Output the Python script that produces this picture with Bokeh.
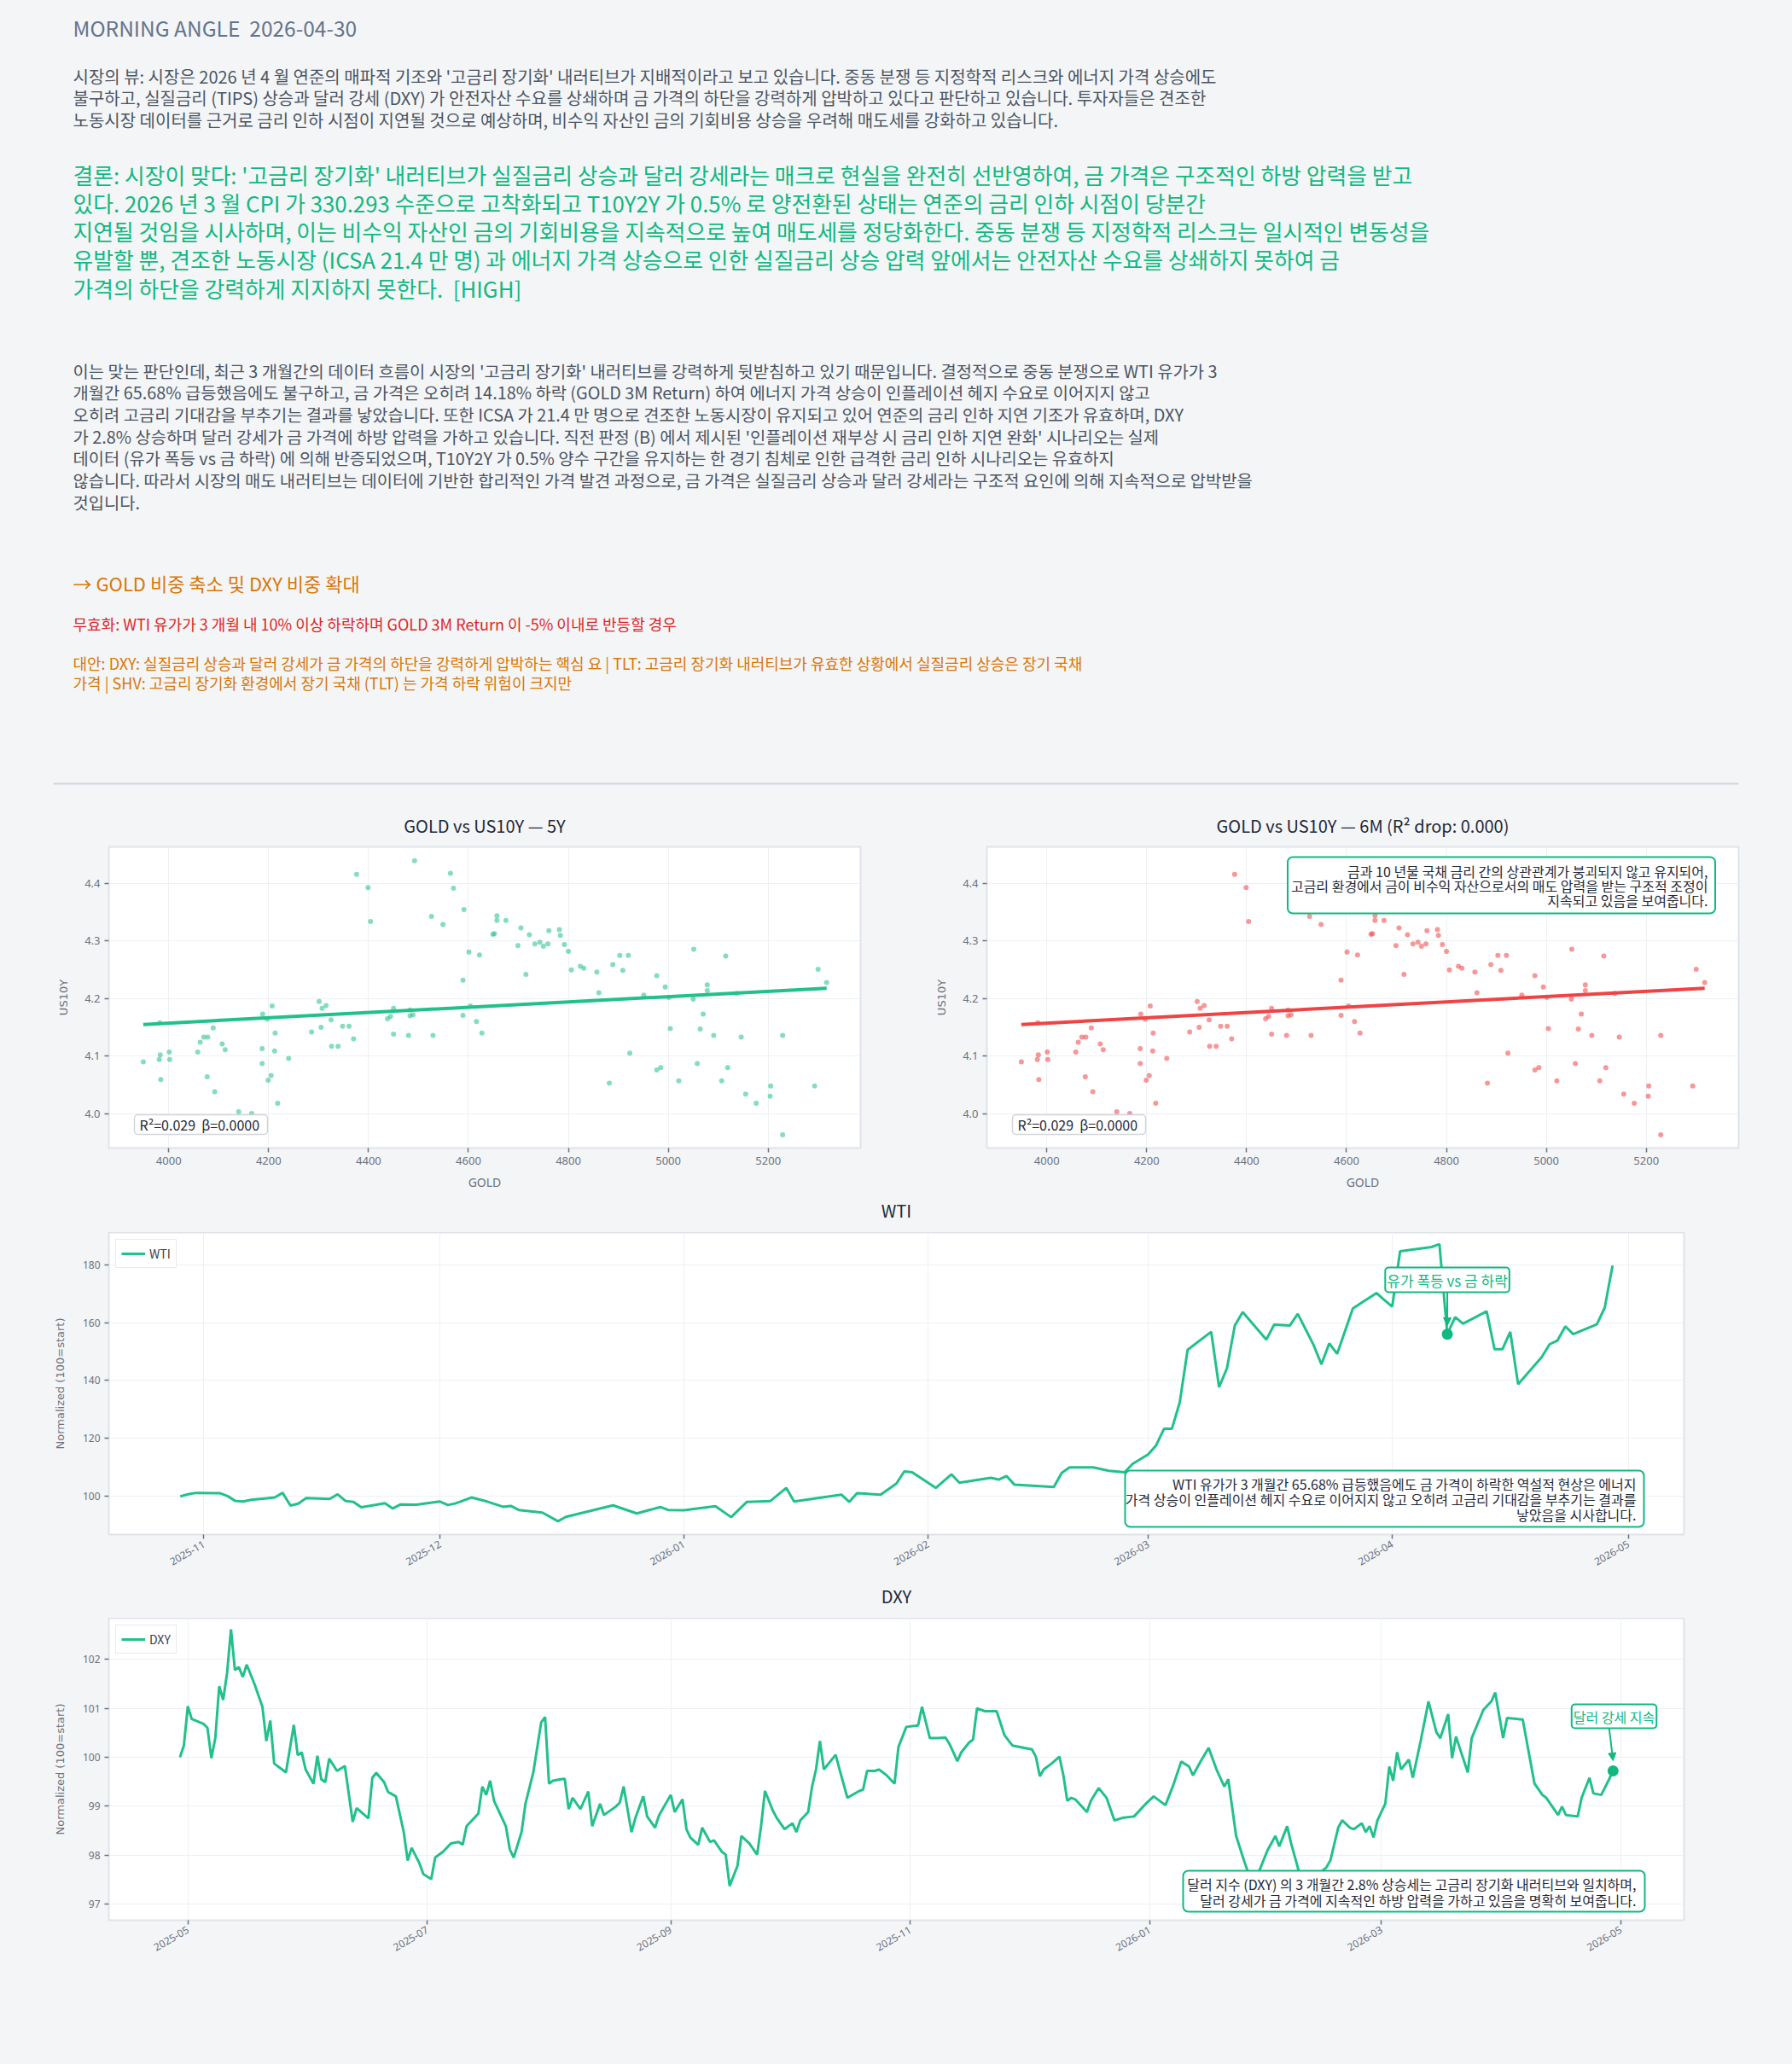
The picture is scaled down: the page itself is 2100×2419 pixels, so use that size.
import math
import pandas as pd
from bokeh.plotting import figure
from bokeh.layouts import column, row
from bokeh.models import (Range1d, Label, Arrow, NormalHead, SingleIntervalTicker,
                          MonthsTicker, DatetimeTickFormatter, NumeralTickFormatter,
                          BoxAnnotation)
from bokeh.core.properties import value
from bokeh.embed import file_html
from bokeh.resources import INLINE

# ---------------- text content ----------------
header_title = "MORNING ANGLE  2026-04-30"
view_lines = [
    "시장의 뷰: 시장은 2026 년 4 월 연준의 매파적 기조와 '고금리 장기화' 내러티브가 지배적이라고 보고 있습니다. 중동 분쟁 등 지정학적 리스크와 에너지 가격 상승에도",
    "불구하고, 실질금리 (TIPS) 상승과 달러 강세 (DXY) 가 안전자산 수요를 상쇄하며 금 가격의 하단을 강력하게 압박하고 있다고 판단하고 있습니다. 투자자들은 견조한",
    "노동시장 데이터를 근거로 금리 인하 시점이 지연될 것으로 예상하며, 비수익 자산인 금의 기회비용 상승을 우려해 매도세를 강화하고 있습니다.",
]
concl_lines = [
    "결론: 시장이 맞다: '고금리 장기화' 내러티브가 실질금리 상승과 달러 강세라는 매크로 현실을 완전히 선반영하여, 금 가격은 구조적인 하방 압력을 받고",
    "있다. 2026 년 3 월 CPI 가 330.293 수준으로 고착화되고 T10Y2Y 가 0.5% 로 양전환된 상태는 연준의 금리 인하 시점이 당분간",
    "지연될 것임을 시사하며, 이는 비수익 자산인 금의 기회비용을 지속적으로 높여 매도세를 정당화한다. 중동 분쟁 등 지정학적 리스크는 일시적인 변동성을",
    "유발할 뿐, 견조한 노동시장 (ICSA 21.4 만 명) 과 에너지 가격 상승으로 인한 실질금리 상승 압력 앞에서는 안전자산 수요를 상쇄하지 못하여 금",
    "가격의 하단을 강력하게 지지하지 못한다.  [HIGH]",
]
reason_lines = [
    "이는 맞는 판단인데, 최근 3 개월간의 데이터 흐름이 시장의 '고금리 장기화' 내러티브를 강력하게 뒷받침하고 있기 때문입니다. 결정적으로 중동 분쟁으로 WTI 유가가 3",
    "개월간 65.68% 급등했음에도 불구하고, 금 가격은 오히려 14.18% 하락 (GOLD 3M Return) 하여 에너지 가격 상승이 인플레이션 헤지 수요로 이어지지 않고",
    "오히려 고금리 기대감을 부추기는 결과를 낳았습니다. 또한 ICSA 가 21.4 만 명으로 견조한 노동시장이 유지되고 있어 연준의 금리 인하 지연 기조가 유효하며, DXY",
    "가 2.8% 상승하며 달러 강세가 금 가격에 하방 압력을 가하고 있습니다. 직전 판정 (B) 에서 제시된 '인플레이션 재부상 시 금리 인하 지연 완화' 시나리오는 실제",
    "데이터 (유가 폭등 vs 금 하락) 에 의해 반증되었으며, T10Y2Y 가 0.5% 양수 구간을 유지하는 한 경기 침체로 인한 급격한 금리 인하 시나리오는 유효하지",
    "않습니다. 따라서 시장의 매도 내러티브는 데이터에 기반한 합리적인 가격 발견 과정으로, 금 가격은 실질금리 상승과 달러 강세라는 구조적 요인에 의해 지속적으로 압박받을",
    "것입니다.",
]
action_line = "→ GOLD 비중 축소 및 DXY 비중 확대"
invalid_line = "무효화: WTI 유가가 3 개월 내 10% 이상 하락하며 GOLD 3M Return 이 -5% 이내로 반등할 경우"
alt_lines = [
    "대안: DXY: 실질금리 상승과 달러 강세가 금 가격의 하단을 강력하게 압박하는 핵심 요 | TLT: 고금리 장기화 내러티브가 유효한 상황에서 실질금리 상승은 장기 국채",
    "가격 | SHV: 고금리 장기화 환경에서 장기 국채 (TLT) 는 가격 하락 위험이 크지만",
]

# ---------------- scatter data (GOLD vs US10Y) ----------------
gold = [3949, 3982, 3983, 3981, 3984, 4001, 4002, 4058, 4063, 4070,
        4078, 4077, 4089, 4092, 4107, 4113, 4140, 4166, 4187, 4187,
        4188, 4197, 4207, 4199, 4205, 4213, 4212, 4218, 4240, 4286,
        4301, 4305, 4307, 4315, 4325, 4326, 4339, 4348, 4361, 4370,
        4376, 4399, 4404, 4438, 4444, 4450, 4450, 4480, 4483, 4483,
        4489, 4492, 4526, 4529, 4549, 4564, 4570, 4589, 4589, 4591,
        4601, 4604, 4616, 4622, 4627, 4649, 4652, 4657, 4657, 4675,
        4699, 4705, 4715, 4722, 4733, 4743, 4750, 4759, 4761, 4782,
        4784, 4792, 4800, 4806, 4824, 4831, 4857, 4861, 4882, 4889,
        4903, 4909, 4920, 4923, 4951, 4977, 4977, 4985, 4994, 5001,
        5004, 5021, 5050, 5051, 5058, 5064, 5070, 5078, 5078, 5091,
        5107, 5115, 5119, 5137, 5146, 5155, 5176, 5204, 5205, 5229,
        5229, 5293, 5300, 5317]
us10y = [4.090, 4.158, 4.102, 4.094, 4.059, 4.107, 4.094, 4.107, 4.124, 4.133,
         4.133, 4.064, 4.149, 4.038, 4.121, 4.111, 4.003, 4.000, 4.113, 4.087,
         4.173, 4.164, 4.187, 4.058, 4.066, 4.140, 4.109, 4.018, 4.096, 4.142,
         4.195, 4.150, 4.183, 4.188, 4.163, 4.117, 4.117, 4.152, 4.152, 4.130,
         4.416, 4.393, 4.334, 4.165, 4.169, 4.183, 4.138, 4.136, 4.170, 4.180,
         4.172, 4.440, 4.343, 4.136, 4.329, 4.418, 4.392, 4.171, 4.232, 4.355,
         4.281, 4.187, 4.160, 4.276, 4.140, 4.312, 4.313, 4.344, 4.336, 4.336,
         4.292, 4.323, 4.242, 4.311, 4.295, 4.298, 4.291, 4.295, 4.318, 4.320,
         4.310, 4.294, 4.282, 4.250, 4.256, 4.253, 4.246, 4.210, 4.053, 4.259,
         4.275, 4.249, 4.275, 4.105, 4.206, 4.240, 4.076, 4.080, 4.220, 4.202,
         4.148, 4.057, 4.199, 4.286, 4.087, 4.147, 4.173, 4.224, 4.214, 4.136,
         4.057, 4.274, 4.080, 4.209, 4.133, 4.034, 4.018, 4.030, 4.048, 4.136,
         3.963, 4.048, 4.251, 4.228]
fit_gold = [3949, 5317]
fit_us10y = [4.155, 4.218]
fit_text = "R²=0.029  β=0.0000"
note_6m = ["금과 10 년물 국채 금리 간의 상관관계가 붕괴되지 않고 유지되어,",
           "고금리 환경에서 금이 비수익 자산으로서의 매도 압력을 받는 구조적 조정이",
           "지속되고 있음을 보여줍니다."]

# ---------------- WTI (normalized, 100 = start) ----------------
wti_dates = ["2025-10-29", "2025-10-30", "2025-10-31", "2025-11-03", "2025-11-04", "2025-11-05",
             "2025-11-06", "2025-11-07", "2025-11-09", "2025-11-10", "2025-11-11", "2025-11-12",
             "2025-11-13", "2025-11-14", "2025-11-17", "2025-11-18", "2025-11-19", "2025-11-20",
             "2025-11-21", "2025-11-22", "2025-11-24", "2025-11-25", "2025-11-26", "2025-11-28",
             "2025-12-01", "2025-12-02", "2025-12-03", "2025-12-05", "2025-12-07", "2025-12-09",
             "2025-12-10", "2025-12-11", "2025-12-14", "2025-12-16", "2025-12-17", "2025-12-23",
             "2025-12-26", "2025-12-29", "2025-12-30", "2026-01-01", "2026-01-05", "2026-01-07",
             "2026-01-09", "2026-01-12", "2026-01-14", "2026-01-15", "2026-01-21", "2026-01-22",
             "2026-01-23", "2026-01-26", "2026-01-28", "2026-01-29", "2026-01-30", "2026-02-02",
             "2026-02-04", "2026-02-05", "2026-02-09", "2026-02-10", "2026-02-11", "2026-02-12",
             "2026-02-17", "2026-02-18", "2026-02-19", "2026-02-22", "2026-02-24", "2026-02-26",
             "2026-02-27", "2026-03-01", "2026-03-02", "2026-03-03", "2026-03-04", "2026-03-05",
             "2026-03-06", "2026-03-09", "2026-03-10", "2026-03-11", "2026-03-12", "2026-03-13",
             "2026-03-16", "2026-03-17", "2026-03-19", "2026-03-20", "2026-03-22", "2026-03-23",
             "2026-03-24", "2026-03-25", "2026-03-27", "2026-03-30", "2026-03-31", "2026-04-01",
             "2026-04-02", "2026-04-06", "2026-04-07", "2026-04-08", "2026-04-09", "2026-04-10",
             "2026-04-13", "2026-04-14", "2026-04-15", "2026-04-16", "2026-04-17", "2026-04-20",
             "2026-04-21", "2026-04-22", "2026-04-23", "2026-04-24", "2026-04-27", "2026-04-28",
             "2026-04-29"]
wti_vals = [100.0, 100.7, 101.2, 101.1, 100.1, 98.4,
            98.2, 98.8, 99.3, 99.6, 101.2, 96.8,
            97.5, 99.4, 99.1, 100.7, 98.4, 98.1,
            96.2, 96.7, 97.6, 95.8, 97.2, 97.1,
            98.2, 97.0, 97.6, 99.6, 98.2, 96.4,
            96.7, 95.3, 94.4, 91.4, 92.9, 96.9,
            94.1, 96.3, 95.3, 95.2, 96.6, 92.8,
            98.1, 98.4, 102.9, 98.2, 100.6, 98.1,
            101.1, 100.6, 104.4, 108.6, 108.3, 102.9,
            107.6, 104.7, 106.4, 105.8, 107.0, 104.0,
            103.2, 108.1, 110.0, 110.0, 108.8, 108.3,
            111.2, 114.5, 117.6, 123.3, 123.3, 132.4,
            150.6, 156.8, 137.7, 144.2, 159.0, 163.6,
            154.1, 159.3, 159.0, 163.0, 152.3, 145.6,
            152.8, 149.2, 164.9, 170.2, 167.8, 165.5,
            184.6, 186.1, 187.1, 156.0, 161.9, 159.6,
            163.9, 150.8, 150.8, 156.8, 138.7, 148.1,
            152.5, 153.8, 158.7, 156.0, 159.4, 165.1,
            179.7]
wti_mark_date = "2026-04-08"
wti_mark_text = "유가 폭등 vs 금 하락"
wti_note = ["WTI 유가가 3 개월간 65.68% 급등했음에도 금 가격이 하락한 역설적 현상은 에너지",
            "가격 상승이 인플레이션 헤지 수요로 이어지지 않고 오히려 고금리 기대감을 부추기는 결과를",
            "낳았음을 시사합니다."]

# ---------------- DXY (normalized, 100 = start); days since 2025-05-01 ----------------
dxy_start = "2025-05-01"
dxy_day = [-2, -1, 0, 1, 4, 5, 6, 7, 8, 9, 10, 11, 12, 13, 14, 15, 17, 19, 20, 21,
           22, 24, 25, 27, 28, 29, 30, 32, 33, 34, 35, 36, 38, 40, 42, 43, 46, 47, 48, 50,
           51, 53, 55, 56, 57, 59, 60, 62, 63, 65, 67, 69, 70, 71, 73, 74, 75, 76, 77, 78,
           81, 82, 83, 85, 86, 88, 90, 91, 92, 93, 95, 96, 97, 98, 100, 102, 103, 105, 106, 109,
           110, 111, 113, 114, 116, 117, 119, 120, 123, 124, 126, 127, 128, 130, 131, 133, 134, 136, 137, 138,
           140, 141, 143, 145, 146, 147, 149, 150, 152, 154, 155, 156, 158, 159, 160, 161, 162, 165, 166, 168,
           171, 172, 173, 175, 176, 178, 180, 181, 183, 186, 187, 189, 191, 193, 194, 196, 197, 199, 200, 201,
           203, 206, 208, 210, 213, 215, 216, 217, 218, 220, 222, 223, 224, 225, 226, 229, 230, 232, 234, 236,
           238, 241, 244, 246, 249, 251, 253, 255, 256, 258, 260, 262, 264, 265, 267, 269, 270, 272, 273, 275,
           277, 278, 280, 281, 283, 285, 287, 290, 291, 293, 294, 296, 297, 299, 300, 301, 302, 303, 305, 306,
           307, 308, 309, 311, 312, 314, 316, 318, 319, 321, 322, 323, 326, 327, 330, 332, 333, 335, 336, 340,
           341, 343, 345, 346, 349, 350, 351, 354, 355, 357, 358, 360, 362, 363]
dxy_vals = [100.00, 100.24, 101.04, 100.78, 100.68, 100.60, 99.98, 100.39, 101.45, 101.17, 101.72, 102.61, 101.78, 101.84, 101.64, 101.89, 101.49, 101.03, 100.33, 100.75,
            99.87, 99.75, 99.69, 100.66, 100.04, 100.10, 99.75, 99.46, 100.03, 99.55, 99.49, 99.97, 99.72, 99.82, 98.68, 98.96, 98.75, 99.58, 99.68, 99.49,
            99.29, 99.20, 98.47, 97.89, 98.15, 97.83, 97.61, 97.51, 97.95, 98.07, 98.24, 98.27, 98.21, 98.59, 98.76, 98.85, 99.40, 99.23, 99.52, 99.11,
            98.59, 98.12, 97.95, 98.47, 99.05, 99.69, 100.71, 100.82, 99.46, 99.52, 99.55, 99.56, 98.94, 99.17, 98.94, 99.30, 98.59, 99.05, 98.82, 98.99,
            99.07, 99.40, 98.47, 98.76, 99.20, 98.79, 98.56, 98.81, 99.23, 98.88, 99.14, 98.53, 98.36, 98.21, 98.56, 98.27, 98.30, 98.07, 98.01, 97.37,
            97.78, 98.39, 98.24, 98.01, 98.59, 99.31, 98.91, 98.76, 98.53, 98.65, 98.47, 98.71, 98.88, 99.40, 99.75, 100.33, 99.75, 100.05, 99.75, 99.17,
            99.31, 99.34, 99.72, 99.72, 99.75, 99.63, 99.46, 100.21, 100.62, 100.65, 101.03, 100.39, 100.39, 100.40, 100.27, 99.92, 100.10, 100.30, 100.36, 101.00,
            100.94, 100.94, 100.45, 100.24, 100.19, 100.16, 100.01, 99.61, 99.75, 99.87, 100.01, 99.63, 99.11, 99.17, 99.14, 98.88, 99.11, 99.37, 99.17, 98.71,
            98.76, 98.79, 99.05, 99.20, 99.02, 99.43, 99.91, 99.81, 99.63, 99.92, 100.19, 99.75, 99.40, 99.55, 98.39, 97.89, 97.66, 97.20, 97.70, 98.10,
            98.39, 98.18, 98.59, 98.24, 97.66, 97.40, 97.55, 97.75, 97.89, 98.56, 98.71, 98.56, 98.53, 98.65, 98.47, 98.59, 98.36, 98.71, 99.05, 99.81,
            99.52, 100.10, 99.75, 99.95, 99.58, 100.33, 101.14, 100.51, 100.39, 100.88, 99.98, 100.42, 99.69, 100.39, 100.97, 101.14, 101.32, 100.39, 100.80, 100.77,
            100.33, 99.46, 99.23, 99.17, 98.82, 98.99, 98.82, 98.79, 99.17, 99.58, 99.26, 99.23, 99.55, 99.72]
dxy_mark_text = "달러 강세 지속"
dxy_note = ["달러 지수 (DXY) 의 3 개월간 2.8% 상승세는 고금리 장기화 내러티브와 일치하며,",
            "달러 강세가 금 가격에 지속적인 하방 압력을 가하고 있음을 명확히 보여줍니다."]

# ---------------- styles ----------------
BG = "#f4f5f7"
GREEN = "#22c08c"
GREEN_DK = "#10b981"
RED = "#ef4444"
KFONT = "Noto Sans CJK KR"
TICK_C = "#6b7280"
NOTE_SIZE = "16px"
PAGE_W = 2092

def keep_spaces(s):
    return s.replace("  ", "\u00a0 ")

def ms(d):
    return pd.Timestamp(d).value / 1e6

# page-pixel -> data helpers (frame geometry of each plot on the page)
def gx(g, px):
    return g["x0"] + (px - g["left"]) * (g["x1"] - g["x0"]) / g["w"]

def gy(g, py):
    return g["y1"] - (py - g["top"]) * (g["y1"] - g["y0"]) / g["h"]

def style(p, title, standoff):
    p.background_fill_color = "white"
    p.border_fill_color = BG
    p.outline_line_color = "#dfe3e8"
    p.outline_line_width = 2
    p.grid.grid_line_color = "#eef0f3"
    p.grid.grid_line_width = 1
    p.axis.axis_line_color = None
    p.axis.major_tick_line_color = TICK_C
    p.axis.major_tick_line_width = 1.5
    p.axis.major_tick_out = 5
    p.axis.major_tick_in = 0
    p.axis.minor_tick_line_color = None
    p.axis.major_label_text_color = TICK_C
    p.axis.major_label_text_font = "Noto Sans"
    p.axis.major_label_text_font_size = "13px"
    p.axis.axis_label_text_color = TICK_C
    p.axis.axis_label_text_font = "DejaVu Sans"
    p.axis.axis_label_text_font_size = "13px"
    p.axis.axis_label_text_font_style = "normal"
    if title:
        p.title.text = title
        p.title.align = "center"
        p.title.text_font = KFONT
        p.title.text_font_size = "20px"
        p.title.text_font_style = "normal"
        p.title.text_color = "#1f2937"
        p.title.standoff = standoff

def note_box(p, g, box, lines, line_ys, right_px, border=GREEN_DK, bw=2, radius=6,
             align="right", color="#1f2937"):
    p.add_layout(BoxAnnotation(left=gx(g, box[0]), right=gx(g, box[1]),
                               top=gy(g, box[2]), bottom=gy(g, box[3]),
                               fill_color="white", fill_alpha=1, line_color=border,
                               line_width=bw, line_alpha=1, border_radius=radius))
    for t, y in zip(lines, line_ys):
        p.add_layout(Label(x=gx(g, right_px), y=gy(g, y), text=keep_spaces(t), text_font=KFONT,
                           text_font_size=NOTE_SIZE, text_color=color, text_align=align,
                           text_baseline="middle"))

def text_strip(height, texts, xs, ys, sizes, colors):
    """A frameless figure used as a strip of free text (page-pixel coordinates)."""
    f = figure(width=PAGE_W, height=height, x_range=Range1d(0, PAGE_W), y_range=Range1d(height, 0),
               output_backend="svg", toolbar_location=None, min_border=0,
               x_axis_location=None, y_axis_location=None)
    f.grid.visible = False
    f.outline_line_color = None
    f.background_fill_color = BG
    f.border_fill_color = BG
    return f

# ---------------- header ----------------
HH = 935
hdr = text_strip(HH, None, None, None, None, None)

TX = 85
def put(lines, y0, dy, size, color):
    ys = [y0 + i * dy for i in range(len(lines))]
    hdr.text(x=[TX] * len(lines), y=ys, text=[keep_spaces(t) for t in lines], text_font=value(KFONT),
             text_font_size=size, text_color=color, text_baseline="middle", text_align="left")

put([header_title], 32, 0, "24.5px", "#64748b")
put(view_lines, 88.7, 25.5, "20px", "#4b5563")
put(concl_lines, 203.7, 33.2, "25.8px", GREEN_DK)
put(reason_lines, 433.6, 25.7, "19.85px", "#4b5563")
put([action_line], 682, 0, "22px", "#d97706")
put([invalid_line], 730, 0, "18px", "#dc2626")
put(alt_lines, 776, 23.3, "18px", "#d97706")
hdr.add_layout(BoxAnnotation(left=62, right=2037, top=917, bottom=919,
                             fill_color="#cfd6df", fill_alpha=1, line_color=None))

# ---------------- scatter plots ----------------
def scatter_fig(title, width, bl, br, color, frame_left, note):
    g = dict(left=frame_left, top=992, w=881, h=353, x0=3880, x1=5385, y0=3.94, y1=4.464)
    p = figure(width=width, height=470, x_range=Range1d(g["x0"], g["x1"]), y_range=Range1d(g["y0"], g["y1"]),
               min_border_left=bl, min_border_right=br, min_border_top=57, min_border_bottom=60,
               output_backend="svg", toolbar_location=None)
    style(p, title, 21)
    p.scatter(gold, us10y, size=6, color=color, alpha=0.55, line_color=None)
    p.line(fit_gold, fit_us10y, line_width=4, color=color)
    p.xaxis.ticker = SingleIntervalTicker(interval=200, num_minor_ticks=0)
    p.yaxis.ticker = SingleIntervalTicker(interval=0.1, num_minor_ticks=0)
    p.yaxis.formatter = NumeralTickFormatter(format="0.0")
    p.xaxis.axis_label = "GOLD"
    p.xaxis.axis_label_text_font = "Noto Sans"
    p.xaxis.axis_label_text_font_size = "14px"
    p.yaxis.axis_label = "US10Y"
    p.xaxis.axis_label_standoff = 8
    p.yaxis.axis_label_standoff = 14
    L = frame_left
    note_box(p, g, (L + 30, L + 186, 1306, 1329), [fit_text], [1317.5], L + 36,
             border="#d1d5db", bw=1.5, radius=4, align="left")
    if note:
        note_box(p, g, (L + 352.5, L + 853.5, 1004, 1070), note, [1020, 1037, 1054.5], L + 845)
    return p

sc1 = scatter_fig("GOLD vs US10Y — 5Y", 1082, 127, 74, GREEN, 127, None)
sc2 = scatter_fig("GOLD vs US10Y — 6M (R² drop: 0.000)", 1010, 74, 55, RED, 1156, note_6m)

# ---------------- time series ----------------
def ts_fig(height, bottom, g, months, yint):
    p = figure(width=PAGE_W, height=height, x_axis_type="datetime",
               x_range=Range1d(g["x0"], g["x1"]), y_range=Range1d(g["y0"], g["y1"]),
               min_border_left=127, min_border_right=119, min_border_top=0, min_border_bottom=bottom,
               output_backend="svg", toolbar_location=None)
    style(p, None, 0)
    p.xaxis.ticker = MonthsTicker(months=months)
    p.xaxis.formatter = DatetimeTickFormatter(months="%Y-%m", days="%Y-%m", years="%Y-%m")
    p.xaxis.major_label_orientation = math.pi / 6
    p.xaxis.major_label_text_font_size = "12px"
    p.yaxis.major_label_text_font_size = "12px"
    p.yaxis.ticker = SingleIntervalTicker(interval=yint, num_minor_ticks=0)
    p.yaxis.axis_label = "Normalized (100=start)"
    p.yaxis.axis_label_standoff = 16
    return p

def title_strip(height, text, cy):
    f = text_strip(height, None, None, None, None, None)
    f.text(x=[1050], y=[cy], text=[text], text_font=value(KFONT), text_font_size="20px",
           text_color="#1f2937", text_align="center", text_baseline="middle")
    return f

# WTI  (title strip 1405-1444, plot 1444-1855)
wti_title = title_strip(39, "WTI", 13)
gw = dict(left=127, top=1444, w=1846, h=354, x0=ms("2025-10-19 22:00"), x1=ms("2026-05-08 02:00"),
          y0=86.8, y1=191.1)
wti_x = pd.to_datetime(wti_dates)
wti = ts_fig(411, 57, gw, list(range(12)), 20)
wti.line(wti_x, wti_vals, line_width=3, color=GREEN, legend_label="WTI")
mi = wti_dates.index(wti_mark_date)
wti.scatter([wti_x[mi]], [wti_vals[mi]], size=13, color=GREEN_DK, line_color=None)
wti.add_layout(Arrow(end=NormalHead(size=9, fill_color=GREEN_DK, line_color=GREEN_DK),
                     x_start=ms(wti_mark_date), y_start=gy(gw, 1511), x_end=ms(wti_mark_date),
                     y_end=gy(gw, 1553), line_color=GREEN_DK, line_width=2))
wti.add_layout(Label(x=ms(wti_mark_date), y=gy(gw, 1499.5), text=wti_mark_text, text_font=KFONT,
                     text_font_size="17px", text_color=GREEN_DK, text_align="center",
                     text_baseline="middle", background_fill_color="white",
                     border_line_color=GREEN_DK, border_line_width=2, padding=2, border_radius=4))
note_box(wti, gw, (1318, 1926, 1723, 1789), wti_note, [1738.5, 1756.5, 1774.5], 1917)

# DXY  (title strip 1855-1896, plot 1896-2411)
dxy_title = title_strip(41, "DXY", 15)
gd = dict(left=127, top=1896, w=1846, h=354, x0=ms("2025-04-10 21:00"), x1=ms("2026-05-17 02:00"),
          y0=96.67, y1=102.84)
dxy_x = pd.Timestamp(dxy_start) + pd.to_timedelta(dxy_day, unit="D")
dxy = ts_fig(515, 161, gd, [0, 2, 4, 6, 8, 10], 1)
dxy.line(dxy_x, dxy_vals, line_width=3, color=GREEN, legend_label="DXY")
dxy.scatter([dxy_x[-1]], [dxy_vals[-1]], size=13, color=GREEN_DK, line_color=None)
last_ms = dxy_x[-1].value / 1e6
dxy.add_layout(Arrow(end=NormalHead(size=9, fill_color=GREEN_DK, line_color=GREEN_DK),
                     x_start=gx(gd, 1885), y_start=gy(gd, 2023), x_end=last_ms, y_end=gy(gd, 2063),
                     line_color=GREEN_DK, line_width=2))
dxy.add_layout(Label(x=gx(gd, 1891), y=gy(gd, 2011), text=dxy_mark_text, text_font=KFONT,
                     text_font_size=NOTE_SIZE, text_color=GREEN_DK, text_align="center",
                     text_baseline="middle", background_fill_color="white",
                     border_line_color=GREEN_DK, border_line_width=2, padding=2, border_radius=4))
note_box(dxy, gd, (1386, 1927, 2192, 2240), dxy_note, [2207, 2226], 1917)

for p in (wti, dxy):
    lg = p.legend[0]
    lg.location = "top_left"
    lg.margin = 8
    lg.padding = 6
    lg.spacing = 0
    lg.glyph_height = 16
    lg.glyph_width = 28
    lg.label_height = 16
    lg.label_text_font = KFONT
    lg.label_text_font_size = "14px"
    lg.label_text_color = "#374151"
    lg.border_line_color = "#d1d5db"
    lg.border_line_width = 1.5
    lg.background_fill_color = "white"

layout = column(row(hdr), row(sc1, sc2, spacing=0), row(wti_title), row(wti),
                row(dxy_title), row(dxy), spacing=0)
html = file_html(layout, INLINE, title="Morning Angle")
html = html.replace("</head>",
                    "<style>html,body{background:%s;margin:0;padding:0;}</style></head>" % BG)
open("out.html", "w").write(html)
